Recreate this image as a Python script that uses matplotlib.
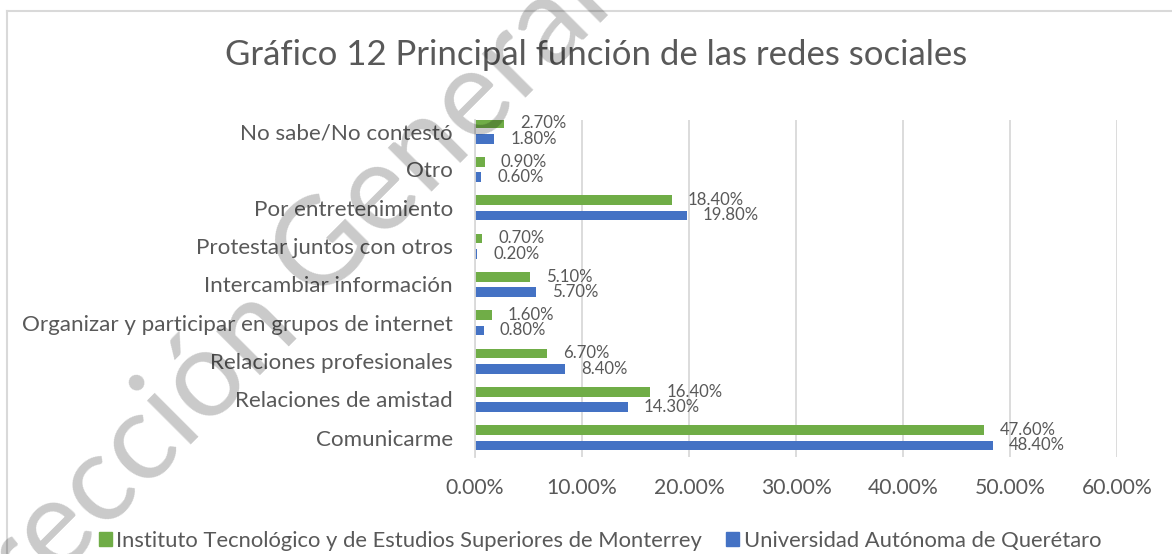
import matplotlib
matplotlib.use("Agg")
import matplotlib.pyplot as plt
from matplotlib.lines import Line2D
from matplotlib.patches import Patch
import numpy as np

plt.rcParams['font.family'] = ['Lato', 'DejaVu Sans']

categories = ["Comunicarme", "Relaciones de amistad", "Relaciones profesionales",
              "Organizar y participar en grupos de internet", "Intercambiar información",
              "Protestar juntos con otros", "Por entretenimiento", "Otro", "No sabe/No contestó"]
itesm = [47.6, 16.4, 6.7, 1.6, 5.1, 0.7, 18.4, 0.9, 2.7]
uaq = [48.4, 14.3, 8.4, 0.8, 5.7, 0.2, 19.8, 0.6, 1.8]
series_names = ["Instituto Tecnológico y de Estudios Superiores de Monterrey",
                "Universidad Autónoma de Querétaro"]
xticks = [0, 10, 20, 30, 40, 50, 60]
title = "Gráfico 12 Principal función de las redes sociales"
watermark_a = "Dirección"
watermark_b = "General de Bibliotecas"

GREEN = "#70AD47"
BLUE = "#4472C4"
TXT = "#595959"
GRID = "#D9D9D9"

W, H = 1172, 554
fig = plt.figure(figsize=(W / 100, H / 100), dpi=100)
ax = fig.add_axes([475 / W, 1 - 457 / H, (1117 - 475) / W, (457 - 120) / H])

y = np.arange(len(categories))
off = 0.2
hgt = 0.25
ax.barh(y + off, itesm, height=hgt, color=GREEN, zorder=2)
ax.barh(y - off, uaq, height=hgt, color=BLUE, zorder=2)

for yi, v in zip(y, itesm):
    ax.annotate(f"{v:.2f}%", (v, yi + off), xytext=(11.5, 0), textcoords="offset points",
                ha="left", va="center", fontsize=12.1, color=TXT)
for yi, v in zip(y, uaq):
    ax.annotate(f"{v:.2f}%", (v, yi - off), xytext=(11.5, 0), textcoords="offset points",
                ha="left", va="center", fontsize=12.1, color=TXT)

ax.set_xlim(0, 60)
ax.set_ylim(-0.5, len(categories) - 1 + 0.29)
ax.set_xticks(xticks)
ax.set_xticklabels([f"{t:.2f}%" for t in xticks])
ax.set_yticks(y)
ax.set_yticklabels(categories)
ax.tick_params(axis="both", length=0, colors=TXT)
ax.tick_params(axis="x", pad=15, labelsize=15.2)
ax.tick_params(axis="y", pad=16, labelsize=16.1)
ax.grid(axis="x", color=GRID, linewidth=1.3, zorder=0)
for s in ["top", "right", "bottom"]:
    ax.spines[s].set_visible(False)
ax.spines["left"].set_color(GRID)
ax.spines["left"].set_linewidth(1.3)

fig.text(596 / W, 1 - 55 / H, title, ha="center", va="center", fontsize=25, color=TXT)

handles = [Patch(color=GREEN), Patch(color=BLUE)]
fig.legend(handles, series_names, loc="center", bbox_to_anchor=(600 / W, 1 - 541 / H),
           ncol=2, frameon=False, fontsize=15.8, labelcolor=TXT,
           handlelength=0.6, handleheight=0.6, handletextpad=0.2, columnspacing=1.1)

# chart border
fig.add_artist(Line2D([7 / W, 7 / W], [0, 1 - 11 / H], color=GRID, lw=1.5))
fig.add_artist(Line2D([7 / W, 1], [1 - 11 / H, 1 - 11 / H], color=GRID, lw=1.5))

# watermark: "Dirección" ends at E, "General de Bibliotecas" starts after a space
ang = 45
u = np.array([np.cos(np.radians(ang)), -np.sin(np.radians(ang))])  # pixel coords, y down
ex, ey = 300, 324
gap = 25
gx, gy = ex + gap * u[0], ey + gap * u[1]
wm = dict(rotation=ang, rotation_mode="anchor", va="baseline", fontsize=88,
          color="black", alpha=0.21, zorder=10)
fig.text(ex / W, 1 - ey / H, watermark_a, ha="right", **wm)
fig.text(gx / W, 1 - gy / H, watermark_b, ha="left", **wm)

fig.savefig("out.png", dpi=100)
